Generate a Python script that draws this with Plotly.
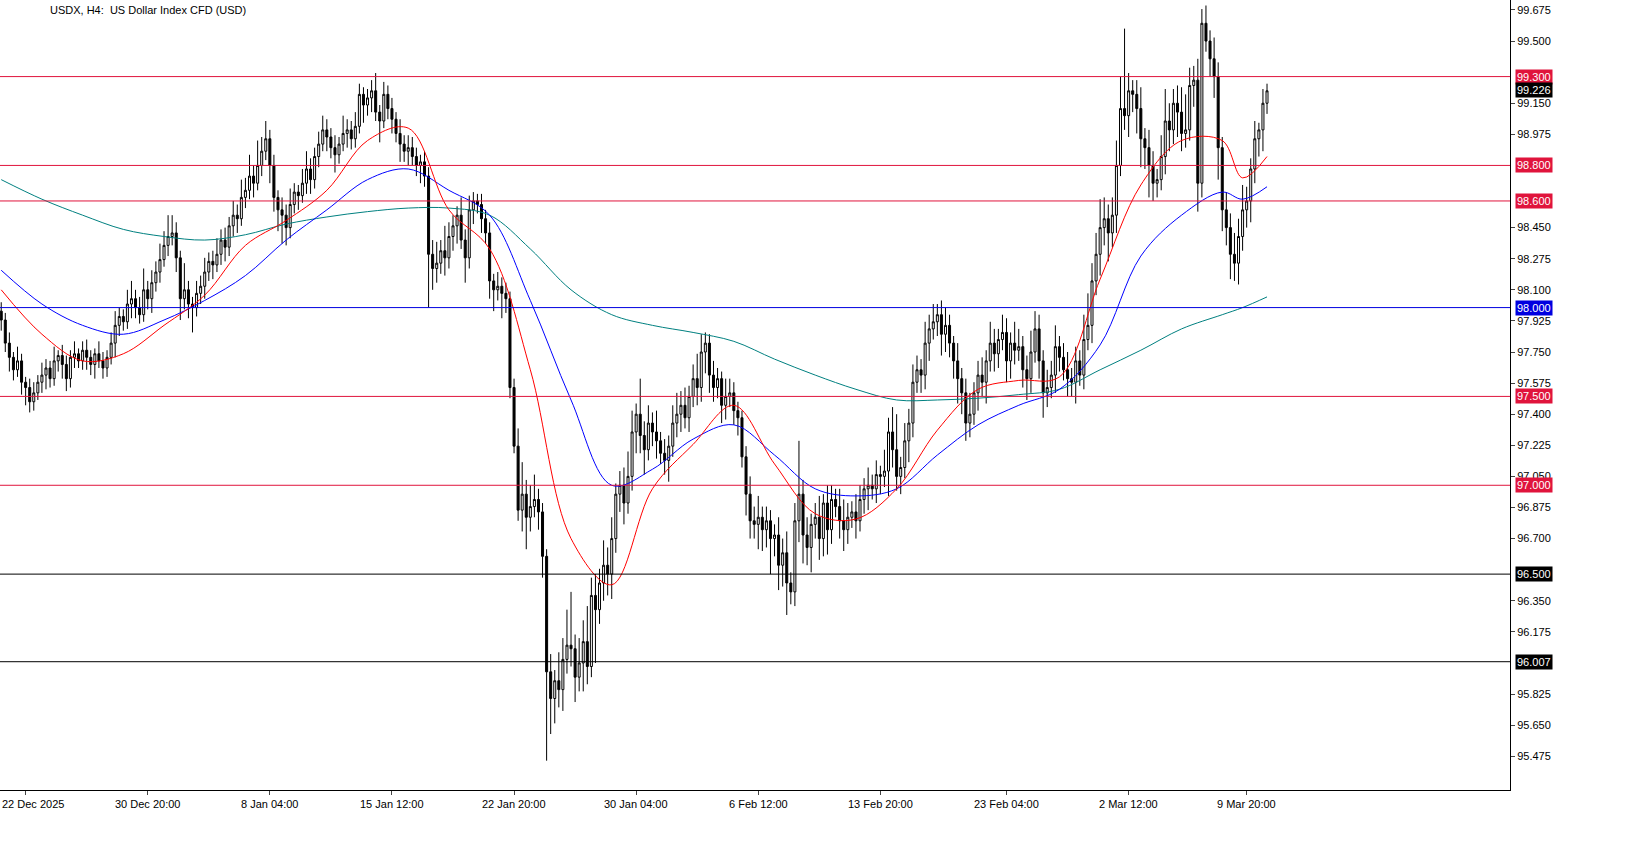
import plotly.graph_objects as go

closes = [
97.93,97.80,97.72,97.65,97.70,97.58,97.55,97.47,97.52,97.58,
97.62,97.66,97.60,97.70,97.73,97.68,97.60,97.72,97.74,97.70,
97.76,97.72,97.68,97.74,97.70,97.66,97.72,97.80,97.90,97.95,
97.92,98.02,98.05,98.00,97.96,98.10,98.05,98.14,98.20,98.27,
98.35,98.40,98.42,98.28,98.05,98.10,98.02,98.00,98.08,98.12,
98.20,98.26,98.24,98.30,98.38,98.34,98.46,98.52,98.50,98.62,
98.66,98.74,98.70,98.80,98.88,98.95,98.80,98.62,98.55,98.52,
98.45,98.58,98.65,98.63,98.70,98.78,98.72,98.85,98.92,99.00,
98.96,98.90,98.86,98.92,98.98,99.00,98.95,99.02,99.20,99.14,
99.18,99.22,99.10,99.05,99.20,99.12,99.06,98.98,98.92,98.88,
98.90,98.85,98.80,98.82,98.74,98.30,98.22,98.25,98.32,98.28,
98.40,98.46,98.52,98.38,98.28,98.55,98.60,98.58,98.50,98.42,
98.15,98.10,98.12,98.08,98.05,97.55,97.22,96.86,96.95,96.82,
96.88,96.92,96.85,96.60,95.95,95.80,95.90,95.85,96.02,96.10,
96.08,95.92,96.00,96.12,95.98,96.38,96.30,96.45,96.55,96.50,
96.70,96.95,97.00,96.90,97.05,97.30,97.40,97.28,97.20,97.35,
97.30,97.25,97.18,97.14,97.22,97.35,97.40,97.45,97.38,97.50,
97.60,97.55,97.75,97.80,97.62,97.55,97.60,97.45,97.50,97.52,
97.42,97.38,97.16,96.95,96.80,96.78,96.82,96.75,96.80,96.70,
96.72,96.55,96.62,96.45,96.40,96.80,96.95,96.72,96.65,96.78,
96.82,96.70,96.90,96.75,96.92,96.88,96.80,96.75,96.82,96.85,
96.80,96.92,96.98,97.00,96.98,97.06,97.05,97.08,97.30,97.20,
97.05,97.10,97.25,97.35,97.58,97.65,97.62,97.80,97.88,97.92,
97.96,97.85,97.90,97.80,97.70,97.60,97.52,97.35,97.40,97.52,
97.62,97.58,97.70,97.80,97.74,97.82,97.86,97.70,97.80,97.76,
97.78,97.65,97.60,97.75,97.88,97.70,97.52,97.55,97.62,97.78,
97.72,97.65,97.60,97.58,97.70,97.62,97.82,97.90,98.15,98.30,
98.45,98.50,98.42,98.52,98.80,99.12,99.08,99.22,99.20,99.12,
98.95,98.90,98.80,98.70,98.72,98.85,99.05,99.00,99.15,99.10,
98.98,99.00,99.25,99.28,98.70,99.60,99.50,99.40,99.30,98.90,
98.55,98.45,98.30,98.25,98.40,98.55,98.60,98.78,98.95,99.00,
99.15,99.22]
first_open = 97.98

upper_wick = [
5,4,6,3,8,4,3,5,6,4, 7,5,4,8,3,6,5,4,7,3, 5,6,4,3,7,5,4,6,8,5,
4,8,10,5,6,12,5,7,6,9, 8,12,10,6,4,15,5,4,7,6, 8,5,6,9,6,7,5,8,6,10,
7,12,6,14,8,10,5,6,4,7, 6,9,5,4,8,10,6,5,7,8, 6,5,7,4,10,6,5,8,6,4,
5,6,10,4,7,5,6,4,8,5, 7,6,5,4,6,5,8,12,6,14, 8,6,5,10,6,8,5,4,6,5,
6,4,8,5,6,4,5,10,18,8, 12,14,6,5,4,10,6,16,12,20, 30,8,14,12,20,10,12,8,14,10,
12,6,8,10,14,12,6,20,8,10, 6,12,5,8,6,10,12,8,10,6, 8,14,10,6,5,8,6,4,10,8,
6,5,4,6,10,8,12,6,8,6, 6,10,8,12,6,10,30,8,10,6, 8,12,5,10,8,6,10,12,8,6,
10,8,6,10,6,8,5,12,8,14, 20,6,10,8,10,8,6,12,8,10, 6,8,10,6,4,10,6,8,12,6,
8,10,6,12,8,6,10,8,6,12, 10,6,8,12,10,8,6,10,8,12, 6,8,10,6,8,6,14,18,10,12,
16,12,8,10,14,18,45,10,6,8, 12,6,10,8,6,12,18,10,8,10, 14,20,10,8,12,8,10,6,12,8,
6,10,8,12,10,14,8,6,10,4, 8,4]
lower_wick = [
6,5,8,6,4,7,10,6,5,4, 6,8,5,4,6,8,7,5,6,4, 5,7,6,8,4,6,5,4,8,6,
5,4,8,6,5,4,6,8,5,6, 4,6,5,8,12,6,8,14,5,6, 7,5,8,4,6,8,5,6,8,4,
6,5,8,4,6,5,10,8,12,16, 10,6,5,8,4,6,8,5,6,4, 8,6,10,5,4,8,6,5,4,10,
6,8,5,12,4,6,8,5,10,6, 8,5,6,10,6,30,12,8,6,10, 6,8,10,5,14,6,8,5,8,6,
10,12,6,14,8,6,4,6,12,18, 8,6,10,12,50,20,14,10,12,8, 10,14,8,16,10,6,30,8,10,12,
14,8,10,12,6,8,12,10,14,6, 8,10,6,8,12,6,8,10,6,8, 6,10,8,12,10,8,6,10,8,6,
8,10,6,12,10,8,14,12,10,20, 10,14,12,18,7,8,12,16,10,14, 8,12,10,14,8,6,10,12,8,6,
10,6,8,12,6,8,10,6,14,10, 8,10,6,12,8,6,10,8,10,6, 8,12,10,8,10,14,12,10,8,6,
10,8,12,6,10,8,6,12,10,8, 6,10,12,8,6,10,14,8,6,10, 8,6,10,8,12,6,8,6,10,8,
12,10,16,8,10,6,8,12,10,14, 16,12,18,10,8,6,10,12,8,14, 10,8,6,12,16,8,6,10,12,18,
12,10,14,10,12,8,10,12,8,10, 12,6]

ma_bars = [0,10,20,30,40,50,60,70,80,90,100,110,120,130,140,150,160,170,180,190,
           200,210,220,230,240,250,260,270,280,290,300,305,311]
ma_red = [98.10,97.85,97.70,97.74,97.90,98.07,98.35,98.49,98.66,98.94,99.01,98.55,98.33,
          97.65,96.70,96.44,96.98,97.23,97.45,97.12,96.84,96.81,96.98,97.31,97.54,97.59,
          97.61,98.16,98.69,98.94,98.94,98.73,98.85]
ma_blue = [98.21,98.02,97.90,97.85,97.93,98.04,98.18,98.38,98.55,98.72,98.78,98.66,98.52,
           98.04,97.48,97.00,97.09,97.26,97.34,97.17,96.98,96.94,96.98,97.17,97.34,97.45,
           97.54,97.79,98.29,98.52,98.65,98.61,98.68]
ma_teal = [98.72,98.61,98.52,98.44,98.40,98.38,98.41,98.47,98.51,98.54,98.56,98.56,98.52,
           98.33,98.10,97.96,97.90,97.86,97.81,97.71,97.62,97.54,97.48,97.48,97.49,97.51,
           97.54,97.65,97.76,97.88,97.96,98.00,98.06]

level_prices = [99.300, 98.800, 98.600, 98.000, 97.500, 97.000, 96.500, 96.007]
level_colors = ["#e0143c", "#e0143c", "#e0143c", "#0000e0", "#e0143c", "#e0143c", "#000000", "#000000"]
current_price = 99.226

price_ticks = [99.675, 99.500, 99.150, 98.975, 98.450, 98.275, 98.100, 97.925, 97.750, 97.575,
               97.400, 97.225, 97.050, 96.875, 96.700, 96.350, 96.175, 95.825, 95.650, 95.475]

tick_bars = [6, 36, 66, 96, 126, 156, 186, 216, 247, 277, 306]
tick_labels = ["22 Dec 2025", "30 Dec 20:00", "8 Jan 04:00", "15 Jan 12:00", "22 Jan 20:00",
               "30 Jan 04:00", "6 Feb 12:00", "13 Feb 20:00", "23 Feb 04:00", "2 Mar 12:00", "9 Mar 20:00"]

opens = [first_open] + closes[:-1]
highs = [max(o, c) + u / 100 for o, c, u in zip(opens, closes, upper_wick)]
lows = [min(o, c) - d / 100 for o, c, d in zip(opens, closes, lower_wick)]
idx = list(range(len(closes)))

FONT = "Liberation Sans"
fig = go.Figure()
for p, col in zip(level_prices, level_colors):
    fig.add_hline(y=p, line=dict(color=col, width=1))
fig.add_trace(go.Scatter(x=ma_bars, y=ma_teal, mode="lines", line=dict(color="#008080", width=1, shape="spline")))
fig.add_trace(go.Scatter(x=ma_bars, y=ma_blue, mode="lines", line=dict(color="#0000ff", width=1, shape="spline")))
fig.add_trace(go.Scatter(x=ma_bars, y=ma_red, mode="lines", line=dict(color="#ff0000", width=1, shape="spline")))
fig.add_trace(go.Candlestick(
    x=idx, open=opens, high=highs, low=lows, close=closes,
    increasing=dict(line=dict(color="black", width=1), fillcolor="white"),
    decreasing=dict(line=dict(color="black", width=1), fillcolor="black"),
    whiskerwidth=0))

for p, col in zip(level_prices, level_colors):
    fig.add_annotation(x=1, xref="paper", y=p, yref="y", text=f"{p:.3f}", showarrow=False,
                       xanchor="left", xshift=5, bgcolor=col, font=dict(color="white", size=11, family=FONT),
                       borderpad=1)
fig.add_annotation(x=1, xref="paper", y=current_price, yref="y", text=f"{current_price:.3f}", showarrow=False,
                   xanchor="left", xshift=5, bgcolor="black", font=dict(color="white", size=11, family=FONT),
                   borderpad=1)
for i, (b, t) in enumerate(zip(tick_bars, tick_labels)):
    if i == 0:
        fig.add_annotation(x=0, xref="paper", y=0, yref="paper", yshift=-6, text=t, showarrow=False,
                           xanchor="left", yanchor="top", font=dict(size=11, color="black", family=FONT))
    else:
        fig.add_annotation(x=b, xref="x", y=0, yref="paper", yshift=-6, text=t, showarrow=False,
                           xanchor="center", yanchor="top", font=dict(size=11, color="black", family=FONT))
fig.add_annotation(x=48 / 1510, xref="paper", y=1, yref="paper", yshift=-2, text="USDX, H4:  US Dollar Index CFD (USD)",
                   showarrow=False, xanchor="left", yanchor="top", font=dict(size=11, color="black", family=FONT))

fig.update_layout(
    width=1642, height=843, margin=dict(l=0, r=132, t=0, b=53),
    paper_bgcolor="white", plot_bgcolor="white", showlegend=False,
    font=dict(family=FONT, size=11, color="black"),
    xaxis=dict(range=[-0.3, 370.7], rangeslider=dict(visible=False), showgrid=False, zeroline=False,
               tickmode="array", tickvals=tick_bars, ticktext=[""] * len(tick_bars), ticks="outside", ticklen=4,
               showline=True, linecolor="black"),
    yaxis=dict(side="right", range=[95.285, 99.731], tickmode="array", tickvals=price_ticks,
               ticktext=[f"{v:.3f}" for v in price_ticks],
               showgrid=False, zeroline=False, ticks="outside", ticklen=4, showline=True, linecolor="black"),
)
fig.write_html("out.html", config={"displayModeBar": False})
with open("out.html", encoding="utf-8") as f:
    html = f.read()
html = html.replace("<body>", '<body style="margin:0;overflow:hidden">', 1)
with open("out.html", "w", encoding="utf-8") as f:
    f.write(html)
